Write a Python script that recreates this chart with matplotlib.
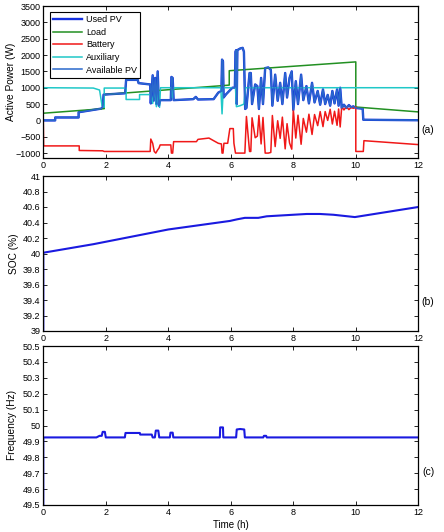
import matplotlib
matplotlib.use("Agg")
import matplotlib.pyplot as plt

plt.rcParams['font.family'] = ['Liberation Sans', 'DejaVu Sans']
plt.rcParams['font.size'] = 6.5

# ---- panel (a): active power, step-like traces
load_t = [0, 1.95, 1.95, 5.95, 5.95, 10.0, 10.0, 12]
load_w = [220, 360, 790, 1080, 1520, 1790, 410, 260]

aux_t = [0, 1.6, 1.8, 1.88, 1.95, 1.95, 2.65, 2.65, 3.08, 3.08, 3.45, 3.5, 3.55, 3.62,
         3.68, 3.72, 3.75, 4.1, 4.13, 4.18, 4.2, 5.68, 5.72, 5.76, 5.8, 6.15, 6.18,
         6.3, 6.42, 6.47, 12]
aux_w = [1000, 990, 930, 450, 400, 990, 990, 640, 640, 790, 790, 520, 950, 420,
         900, 400, 1000, 1000, 700, 1000, 1000, 1000, 200, 1000, 1000, 1000, 420,
         450, 500, 1000, 1000]

pv_t = [0, 0.38, 0.38, 1.13, 1.13, 1.85, 1.9, 1.93, 2.62, 2.65, 3.02, 3.05, 3.42,
        3.44, 3.5, 3.53, 3.58, 3.62, 3.66, 3.7, 3.74, 4.08, 4.1, 4.14, 4.17, 4.8,
        4.88, 4.95, 5.45, 5.6, 5.7, 5.72, 5.75, 5.77, 5.85, 6.05, 6.13, 6.15, 6.17,
        6.19, 6.21, 6.3, 6.38, 6.42, 6.46, 6.5, 6.6, 6.64, 6.68, 6.78, 6.85, 6.9,
        6.97, 7.03, 7.1, 7.2, 7.28, 7.33, 7.42, 7.5, 7.58, 7.65, 7.74, 7.8, 7.88,
        7.95, 8.0, 8.08, 8.15, 8.25, 8.32, 8.42, 8.5, 8.6, 8.68, 8.78, 8.86, 8.95,
        9.02, 9.1, 9.18, 9.25, 9.32, 9.4, 9.45, 9.5, 9.55, 9.62, 9.7, 9.78, 9.85,
        9.92, 10.0, 10.22, 10.24, 12]
pv_w = [0, 0, 90, 90, 250, 360, 400, 790, 830, 1240, 1240, 1140, 1100,
        520, 1380, 600, 1300, 500, 1500, 450, 620, 620, 1330, 1300, 620, 650,
        720, 640, 650, 850, 900, 1860, 1800, 700, 800, 1000, 1000, 2100, 2150,
        500, 2150, 2200, 2220, 2100, 350, 380, 1450, 1450, 500, 1100, 1050, 350,
        1300, 500, 1600, 1620, 1550, 450, 1400, 600, 1150, 500, 1450, 700, 1300,
        1500, 320, 1200, 500, 1400, 620, 1050, 520, 1150, 550, 900, 480, 950,
        500, 780, 450, 900, 520, 950, 450, 1000, 380, 480, 380, 470, 400,
        430, 380, 360, 20, 5]
avail_t = pv_t
avail_w = pv_w

bat_t = [0, 0.01, 1.15, 1.15, 1.9, 1.95, 3.42, 3.44, 3.5, 3.55, 3.6, 3.66, 3.7,
         3.74, 4.08, 4.1, 4.14, 4.17, 4.9, 4.95, 5.3, 5.6, 5.7, 5.72, 5.75, 5.78,
         5.9, 5.97, 6.08, 6.1, 6.15, 6.45, 6.5, 6.6, 6.64, 6.68, 6.78, 6.85, 6.9,
         6.97, 7.03, 7.1, 7.2, 7.28, 7.33, 7.42, 7.5, 7.58, 7.65, 7.74, 7.8, 7.88,
         7.95, 8.0, 8.08, 8.15, 8.25, 8.32, 8.42, 8.5, 8.6, 8.68, 8.78, 8.86, 8.95,
         9.02, 9.1, 9.18, 9.25, 9.32, 9.4, 9.45, 9.5, 9.55, 9.62, 9.7, 9.78, 9.85,
         9.92, 10.0, 10.0, 10.24, 10.26, 12]
bat_w = [0, -780, -780, -920, -930, -950, -950, -570, -700, -950, -1000, -900, -850,
         -750, -750, -1000, -1000, -650, -650, -580, -540, -700, -720, -1000, -1000, -700,
         -700, -250, -250, -700, -1000, -1000, 120, -950, -950, 80, -530, -480, 150,
         -720, 90, -1000, -1000, -980, 150, -800, -10, -550, 100, -870, -100, -690,
         -880, 330, -540, 160, -730, 60, -360, 190, -430, 180, -160, 270, -190,
         270, 0, 340, -110, 280, -150, 350, -200, 420, 320, 420, 330, 400,
         370, 420, -950, -950, -620, -740]

# ---- panel (b): battery state of charge
soc_t = [0, 0, 1.6, 4.0, 5.97, 6.19, 6.45, 6.88, 7.15, 8.0, 8.43, 8.85, 9.28, 9.97, 12]
soc = [39.0, 40.01, 40.12, 40.31, 40.42, 40.44, 40.46, 40.46, 40.48, 40.50, 40.51,
       40.51, 40.50, 40.47, 40.60]

# ---- panel (c): grid frequency
f_t = [0, 0, 1.7, 1.8, 1.87, 1.9, 1.97, 2.0, 2.61, 2.63, 3.09, 3.1, 3.47, 3.5, 3.57,
       3.6, 3.68, 3.71, 4.05, 4.07, 4.14, 4.16, 5.65, 5.66, 5.75, 5.76, 6.17, 6.19,
       6.3, 6.43, 6.45, 7.04, 7.06, 7.13, 7.15, 12]
f_hz = [49.5, 49.925, 49.925, 49.935, 49.935, 49.96, 49.96, 49.925, 49.925, 49.953,
        49.953, 49.943, 49.943, 49.925, 49.925, 49.968, 49.968, 49.925, 49.925, 49.955,
        49.955, 49.925, 49.925, 49.988, 49.988, 49.925, 49.925, 49.975, 49.978, 49.975,
        49.925, 49.925, 49.935, 49.935, 49.925, 49.925]

W, H = 444, 532
fig = plt.figure(figsize=(W / 100, H / 100), dpi=100)

def px_axes(top, bottom):
    return fig.add_axes([43.3 / W, 1 - bottom / H, 375 / W, (bottom - top) / H])

ax1 = px_axes(6, 158)
ax2 = px_axes(176, 331)
ax3 = px_axes(346, 505)

ax1.plot(pv_t, pv_w, color='#1530e0', lw=1.7, label='Used PV')
ax1.plot(load_t, load_w, color='#229022', lw=1.1, label='Load')
ax1.plot(bat_t, bat_w, color='#f01818', lw=1.1, label='Battery')
ax1.plot(aux_t, aux_w, color='#20c8c8', lw=1.1, label='Auxiliary')
ax1.plot(avail_t, avail_w, color='#2a68cc', lw=1.1, label='Available PV')
ax1.set_ylim(-1150, 3500)
ax1.set_yticks(range(-1000, 3501, 500))
ax1.set_ylabel('Active Power (W)', fontsize=7.3)
ax1.yaxis.set_label_coords(-0.072, 0.5)
leg = ax1.legend(loc='upper left', bbox_to_anchor=(0.005, 0.99), fancybox=False,
                 edgecolor='black', framealpha=1, handlelength=3.2, borderpad=0.35,
                 labelspacing=0.4, handletextpad=0.5, fontsize=6.5)
leg.get_frame().set_linewidth(0.8)

ax2.plot(soc_t, soc, color='#1a1ae0', lw=1.5)
ax2.set_ylim(39, 41)
ax2.set_yticks([39 + 0.2 * i for i in range(11)])
ax2.set_yticklabels(['39', '39.2', '39.4', '39.6', '39.8', '40', '40.2', '40.4',
                     '40.6', '40.8', '41'])
ax2.set_ylabel('SOC (%)', fontsize=7.3)
ax2.yaxis.set_label_coords(-0.065, 0.5)

ax3.plot(f_t, f_hz, color='#1a1ae0', lw=1.5)
ax3.set_ylim(49.5, 50.5)
ax3.set_yticks([49.5 + 0.1 * i for i in range(11)])
ax3.set_yticklabels(['49.5', '49.6', '49.7', '49.8', '49.9', '50', '50.1', '50.2',
                     '50.3', '50.4', '50.5'])
ax3.set_ylabel('Frequency (Hz)', fontsize=7.3)
ax3.yaxis.set_label_coords(-0.07, 0.5)
ax3.set_xlabel('Time (h)', fontsize=7, labelpad=2)

for ax in (ax1, ax2, ax3):
    ax.set_xlim(0, 12)
    ax.set_xticks(range(0, 13, 2))
    ax.tick_params(direction='in', top=True, right=True, length=3, width=0.6,
                   labelsize=6.5, pad=2)
    for s in ax.spines.values():
        s.set_linewidth(0.9)

fig.text(428 / W, 1 - 130 / H, '(a)', fontsize=7.5, ha='center', va='center')
fig.text(428 / W, 1 - 302 / H, '(b)', fontsize=7.5, ha='center', va='center')
fig.text(428 / W, 1 - 472 / H, '(c)', fontsize=7.5, ha='center', va='center')

fig.savefig('out.png', dpi=100)
